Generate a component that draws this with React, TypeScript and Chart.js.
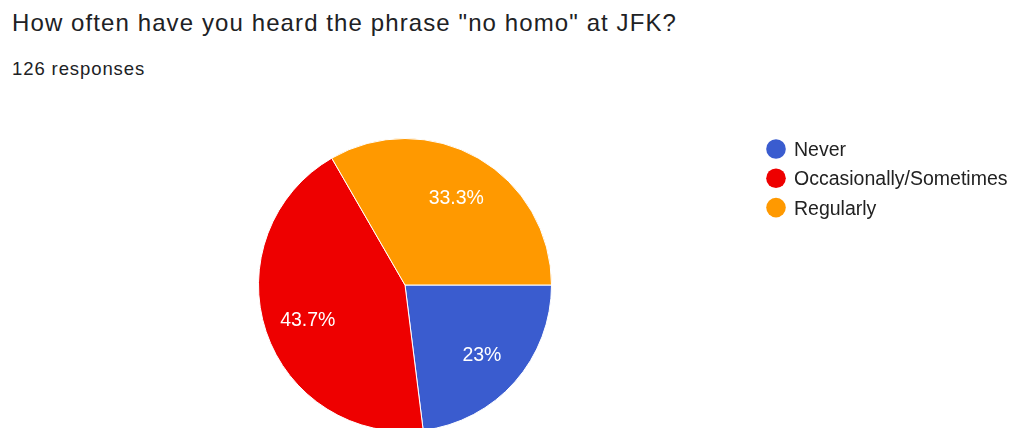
import React, { useEffect, useRef } from "react";
import { Chart, registerables } from "chart.js";

Chart.register(...registerables);

const TITLE = 'How often have you heard the phrase "no homo" at JFK?';
const SUBTITLE = "126 responses";
const categories = ["Never", "Occasionally/Sometimes", "Regularly"];
const responses = [29, 55, 42];
const sliceColors = ["#3a5ccf", "#ee0000", "#ff9900"];

const CANVAS_W = 1010;
const CANVAS_H = 460;

const formatPct = (v: number, total: number) => {
  const p = Math.round((v / total) * 1000) / 10;
  return `${p}%`;
};

const sliceLabelPlugin = {
  id: "sliceLabels",
  afterDatasetsDraw(chart: any) {
    const ctx = chart.ctx;
    const meta = chart.getDatasetMeta(0);
    const values: number[] = chart.data.datasets[0].data;
    const total = values.reduce((a, b) => a + b, 0);
    ctx.save();
    ctx.fillStyle = "#ffffff";
    ctx.font = '19.5px "Liberation Sans", Arial, sans-serif';
    ctx.textAlign = "center";
    ctx.textBaseline = "middle";
    meta.data.forEach((arc: any, i: number) => {
      const p = arc.getProps(["x", "y", "startAngle", "endAngle", "outerRadius"], true);
      const mid = (p.startAngle + p.endAngle) / 2;
      const r = p.outerRadius * 0.7;
      ctx.fillText(formatPct(values[i], total), p.x + Math.cos(mid) * r, p.y + Math.sin(mid) * r + 2.5);
    });
    ctx.restore();
  },
};

const legendPlugin = {
  id: "sideLegend",
  afterDraw(chart: any) {
    const ctx = chart.ctx;
    const labels: string[] = chart.data.labels;
    const colors: string[] = chart.data.datasets[0].backgroundColor;
    ctx.save();
    ctx.font = '19.5px "Liberation Sans", Arial, sans-serif';
    ctx.textAlign = "left";
    ctx.textBaseline = "alphabetic";
    labels.forEach((lab, i) => {
      const cy = 149 + i * 29.3;
      ctx.beginPath();
      ctx.arc(776, cy, 9.8, 0, Math.PI * 2);
      ctx.fillStyle = colors[i];
      ctx.fill();
      ctx.fillStyle = "#222222";
      ctx.fillText(lab, 794, cy + 7);
    });
    ctx.restore();
  },
};

export default function App() {
  const canvasRef = useRef<HTMLCanvasElement | null>(null);

  useEffect(() => {
    if (!canvasRef.current) return;
    const cx = 405;
    const cy = 285;
    const half = 147;
    const chart = new Chart(canvasRef.current, {
      type: "pie",
      data: {
        labels: categories,
        datasets: [
          {
            data: responses,
            backgroundColor: sliceColors,
            borderColor: "#ffffff",
            borderWidth: 1,
          },
        ],
      },
      options: {
        responsive: false,
        animation: false,
        rotation: 90,
        layout: {
          padding: {
            left: cx - half,
            right: CANVAS_W - (cx + half),
            top: cy - half,
            bottom: CANVAS_H - (cy + half),
          },
        },
        plugins: {
          legend: { display: false },
          tooltip: { enabled: false },
        },
      },
      plugins: [sliceLabelPlugin, legendPlugin],
    });
    return () => chart.destroy();
  }, []);

  return (
    <div
      style={{
        position: "fixed",
        left: 0,
        top: 0,
        width: 1010,
        height: 428,
        overflow: "hidden",
        background: "#ffffff",
      }}
    >
      <div
        style={{
          position: "absolute",
          left: 12,
          top: 11,
          fontFamily: '"Liberation Sans", Arial, sans-serif',
          fontSize: 24,
          lineHeight: "24px",
          letterSpacing: "1.1px",
          color: "#202124",
          whiteSpace: "nowrap",
        }}
      >
        {TITLE}
      </div>
      <div
        style={{
          position: "absolute",
          left: 12,
          top: 60,
          fontFamily: '"Liberation Sans", Arial, sans-serif',
          fontSize: 18.5,
          lineHeight: "18px",
          letterSpacing: "0.9px",
          color: "#202124",
          whiteSpace: "nowrap",
        }}
      >
        {SUBTITLE}
      </div>
      <canvas
        ref={canvasRef}
        width={CANVAS_W}
        height={CANVAS_H}
        style={{ position: "absolute", left: 0, top: 0, width: CANVAS_W, height: CANVAS_H }}
      />
    </div>
  );
}
